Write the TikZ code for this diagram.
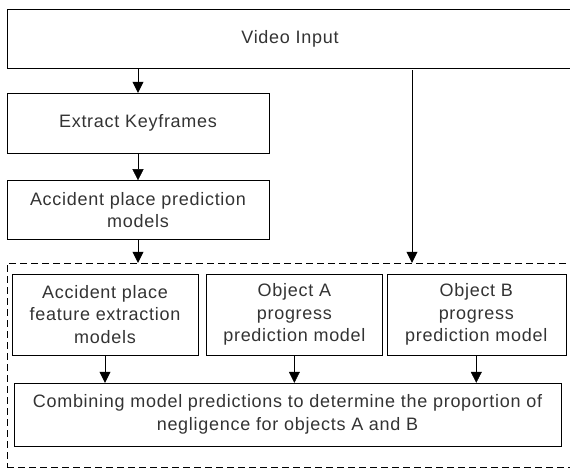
\documentclass[tikz,border=0pt]{standalone}
\usepackage{fontspec}
\setmainfont[LetterSpace=4]{Liberation Sans}
\usetikzlibrary{positioning, arrows.meta}
\tikzset{
    ->, % connectors are directed
    >={Triangle[length=11pt, width=11pt]}, % filled triangle heads
    line width=2pt,
    block/.style={draw, align=center, inner sep=2pt, text=black!80,
        font=\fontsize{18}{22.5}\selectfont}, % the plain boxes
    group/.style={draw, dash pattern=on 7pt off 4pt}, % dashed frame round the models
}

\begin{document}
\begin{tikzpicture}[x=1pt, y=-1pt]
    \useasboundingbox (0,0) rectangle (570,469);
    \node[group, minimum width=568pt, minimum height=204pt] (grp) at (291,365) {};
    \node[block, minimum width=566pt, minimum height=59pt] (video) at (290,38.5) {Video Input};
    \node[block, minimum width=262pt, minimum height=60pt] (keyf) at (138,123) {Extract Keyframes};
    \node[block, minimum width=262pt, minimum height=59pt, below=27pt of keyf] (place)
        {Accident place prediction\\models};
    \node[block, minimum width=186pt, minimum height=81pt] (feat) at (105,314.5)
        {Accident place\\feature extraction\\models};
    \node[block, minimum width=176pt, minimum height=81pt, right=8pt of feat] (objA)
        {Object A\\progress\\prediction model};
    \node[block, minimum width=179pt, minimum height=81pt, right=4pt of objA] (objB)
        {Object B\\progress\\prediction model};
    \node[block, minimum width=547pt, minimum height=63pt] (comb) at (287.5,414.5)
        {Combining model predictions to determine the proportion of\\negligence for objects A and B};
    \coordinate (tap) at (412,70);
    \draw (keyf |- video.south) -- (keyf.north);
    \draw (keyf) -- (place);
    \draw (place) -- (place |- grp.north);
    \draw (tap) -- (tap |- grp.north);
    \draw (feat) -- (feat |- comb.north);
    \draw (objA) -- (objA |- comb.north);
    \draw (objB) -- (objB |- comb.north);
\end{tikzpicture}
\end{document}
